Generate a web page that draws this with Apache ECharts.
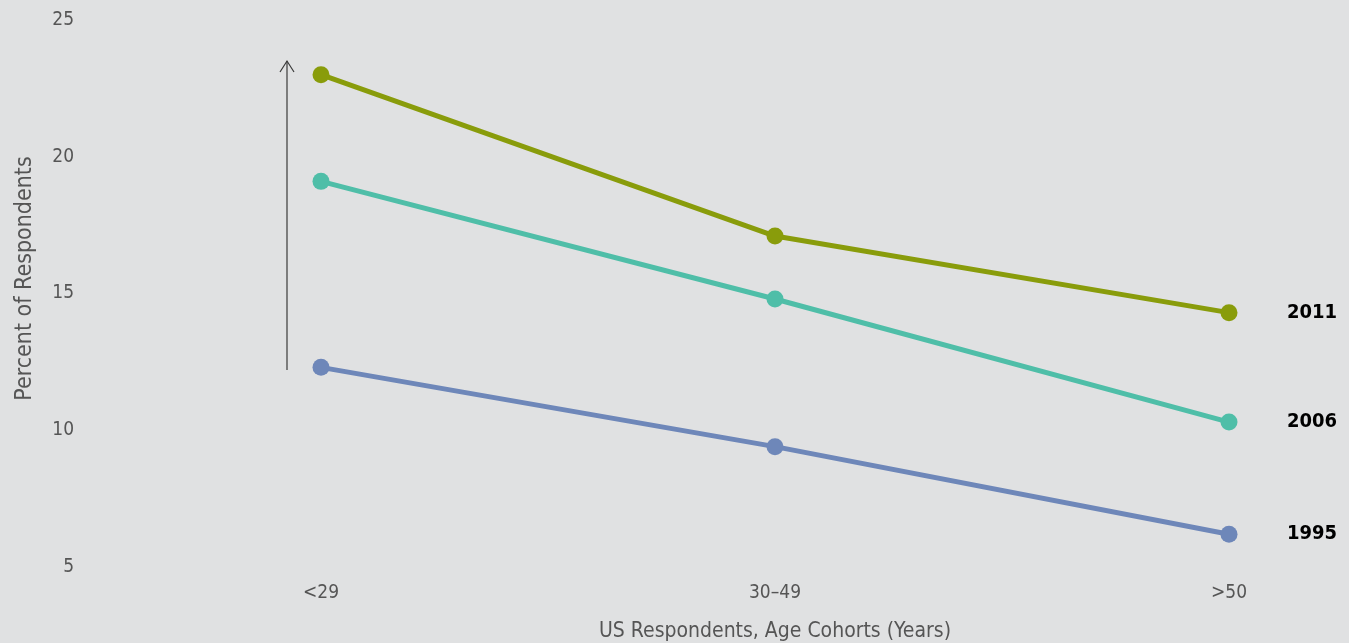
<!DOCTYPE html>
<html>
<head>
<meta charset="utf-8">
<style>
  html, body { margin: 0; padding: 0; background: #e0e1e2; }
  #main { width: 1349px; height: 643px; }
</style>
<script src="https://cdn.jsdelivr.net/npm/echarts@6/dist/echarts.min.js"></script>
</head>
<body>
<div id="main"></div>
<script>
var cohorts = ['<29', '30\u201349', '>50'];
var years = ['2011', '2006', '1995'];
var v2011 = [23.0, 17.1, 14.3];
var v2006 = [19.1, 14.8, 10.3];
var v1995 = [12.3, 9.4, 6.2];
var yTicks = [5, 10, 15, 20, 25];
var arrowRange = [12.2, 23.5];

var colors = ['#899c0b', '#4fbea8', '#6e87b9'];
var fontName = '"DejaVu Sans Condensed", "Liberation Sans Narrow", "Noto Sans", sans-serif';
var textGray = '#555';

var myChart = echarts.init(document.getElementById('main'));

function makeSeries(name, data, color) {
    return {
        name: name,
        type: 'line',
        data: data,
        symbol: 'circle',
        symbolSize: 17,
        lineStyle: { width: 5, color: color },
        itemStyle: { color: color },
        label: { show: false },
        endLabel: {
            show: true,
            formatter: name,
            distance: 58,
            color: '#000',
            fontFamily: fontName,
            fontWeight: 'bold',
            fontSize: 20
        },
        z: 3
    };
}

var option = {
    backgroundColor: '#e0e1e2',
    animation: false,
    grid: { left: 321, right: 120, top: 20, bottom: 76, outerBoundsMode: 'none', containLabel: false },
    xAxis: {
        type: 'category',
        data: cohorts,
        boundaryGap: false,
        axisLine: { show: false },
        axisTick: { show: false },
        axisLabel: { color: textGray, fontSize: 19, fontFamily: fontName, margin: 17 },
        name: 'US Respondents, Age Cohorts (Years)',
        nameLocation: 'middle',
        nameGap: 54,
        nameTextStyle: { color: textGray, fontSize: 21, fontFamily: fontName }
    },
    yAxis: {
        type: 'value',
        min: yTicks[0],
        max: yTicks[yTicks.length - 1],
        interval: 5,
        splitLine: { show: false },
        axisLine: { show: false },
        axisTick: { show: false },
        axisLabel: { color: textGray, fontSize: 19, fontFamily: fontName, margin: 247 },
        name: 'Percent of Respondents',
        nameLocation: 'middle',
        nameGap: 284,
        nameTextStyle: { color: textGray, fontSize: 23, fontFamily: fontName, padding: [0, 0, 0, 30] }
    },
    series: [
        makeSeries(years[0], v2011, colors[0]),
        makeSeries(years[1], v2006, colors[1]),
        makeSeries(years[2], v1995, colors[2])
    ]
};

myChart.setOption(option);

// 箭头：用坐标转换得到像素位置
var pBottom = myChart.convertToPixel({ gridIndex: 0 }, [cohorts[0], arrowRange[0]]);
var pTop = myChart.convertToPixel({ gridIndex: 0 }, [cohorts[0], arrowRange[1]]);
var ax = pBottom[0] - 34;
myChart.setOption({
    graphic: [
        {
            type: 'line',
            shape: { x1: ax, y1: pBottom[1], x2: ax, y2: pTop[1] },
            style: { stroke: '#3a3a3a', lineWidth: 1.2 }
        },
        {
            type: 'polyline',
            shape: { points: [[ax - 7, pTop[1] + 11], [ax, pTop[1]], [ax + 7, pTop[1] + 11]] },
            style: { stroke: '#3a3a3a', lineWidth: 1.2, fill: null }
        }
    ]
});
</script>
</body>
</html>
